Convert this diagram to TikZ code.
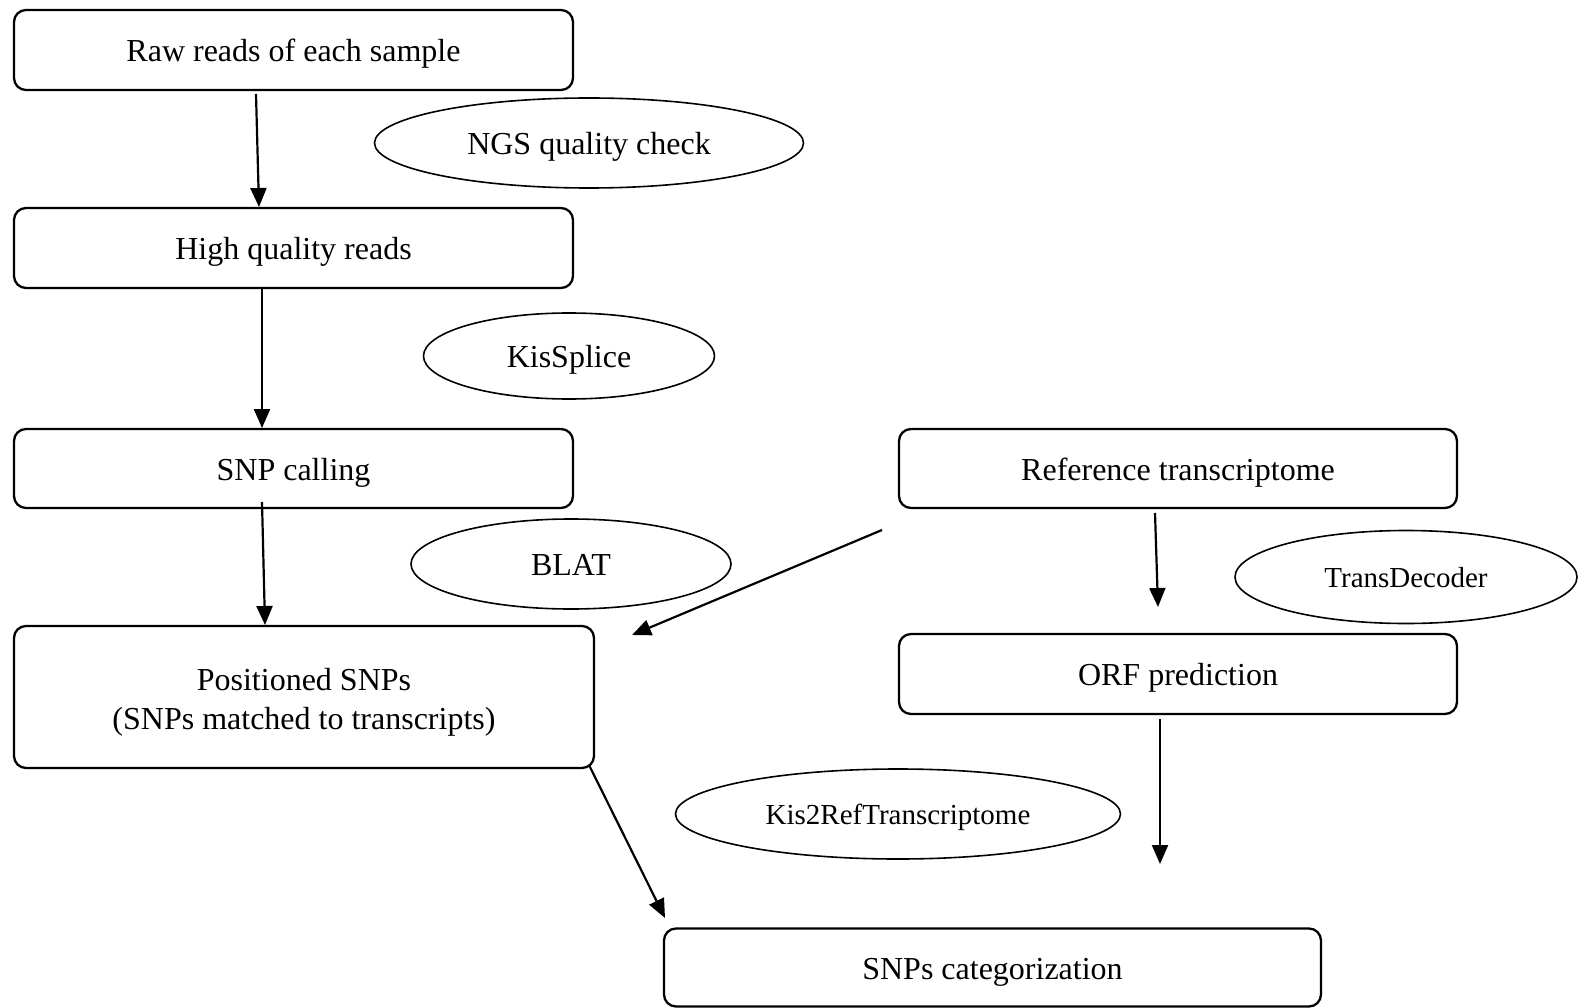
\documentclass[tikz,border=0pt]{standalone}
\usepackage{fontspec}
\setmainfont{Liberation Serif}
\usetikzlibrary{arrows.meta,shapes.geometric}
\begin{document}
\begin{tikzpicture}[x=1pt,y=-1pt,
  box/.style={draw, line width=2.3pt, rounded corners=12pt, inner sep=0pt,
    font=\fontsize{32}{39}\selectfont, align=center, text height=30pt, text depth=7pt},
  tool/.style={draw, ellipse, line width=1.6pt, inner sep=0pt,
    font=\fontsize{32}{39}\selectfont, text height=30pt, text depth=7pt},
  smalltool/.style={tool, font=\fontsize{29}{35}\selectfont, text height=26pt, text depth=6pt},
  arr/.style={line width=2.2pt, -{Triangle[length=19pt,width=16pt]}}]
\useasboundingbox (0,0) rectangle (1579,1008);

% process boxes
\node[box, minimum width=559pt, minimum height=80pt] (raw) at (293.5,50) {Raw reads of each sample};
\node[box, minimum width=559pt, minimum height=80pt] (hq) at (293.5,248) {High quality reads};
\node[box, minimum width=559pt, minimum height=79pt] (snp) at (293.5,468.5) {SNP calling};
\node[box, minimum width=558pt, minimum height=79pt] (ref) at (1178,468.5) {Reference transcriptome};
\node[box, minimum width=580pt, minimum height=142pt, text height=71pt, text depth=7pt] (pos) at (304,697) {Positioned SNPs\\(SNPs matched to transcripts)};
\node[box, minimum width=558pt, minimum height=80pt] (orf) at (1178,674) {ORF prediction};
\node[box, minimum width=657pt, minimum height=78pt] (cat) at (992.5,967.5) {SNPs categorization};

% tools
\node[tool, minimum width=429pt, minimum height=90pt] (ngs) at (589,143) {NGS quality check};
\node[tool, minimum width=291pt, minimum height=86pt] (kis) at (569,356) {KisSplice};
\node[tool, minimum width=320pt, minimum height=90pt] (blat) at (571,564) {BLAT};
\node[smalltool, minimum width=342pt, minimum height=93pt] (td) at (1406,577) {TransDecoder};
\node[smalltool, minimum width=445pt, minimum height=90pt] (k2r) at (898,814) {Kis2RefTranscriptome};

% connector end points
\coordinate (a1s) at (256,94);   \coordinate (a1e) at (259,207);
\coordinate (a2s) at (262,289);  \coordinate (a2e) at (262,428);
\coordinate (a3s) at (262,502);  \coordinate (a3e) at (265,625);
\coordinate (a4s) at (882,530);  \coordinate (a4e) at (632,635);
\coordinate (a5s) at (1155,513); \coordinate (a5e) at (1158,607);
\coordinate (a6s) at (1160,719); \coordinate (a6e) at (1160,864);
\coordinate (a7s) at (589,765);  \coordinate (a7e) at (665,918);

\draw[arr] (a1s) -- (a1e);
\draw[arr] (a2s) -- (a2e);
\draw[arr] (a3s) -- (a3e);
\draw[arr] (a4s) -- (a4e);
\draw[arr] (a5s) -- (a5e);
\draw[arr] (a6s) -- (a6e);
\draw[arr] (a7s) -- (a7e);
\end{tikzpicture}
\end{document}
